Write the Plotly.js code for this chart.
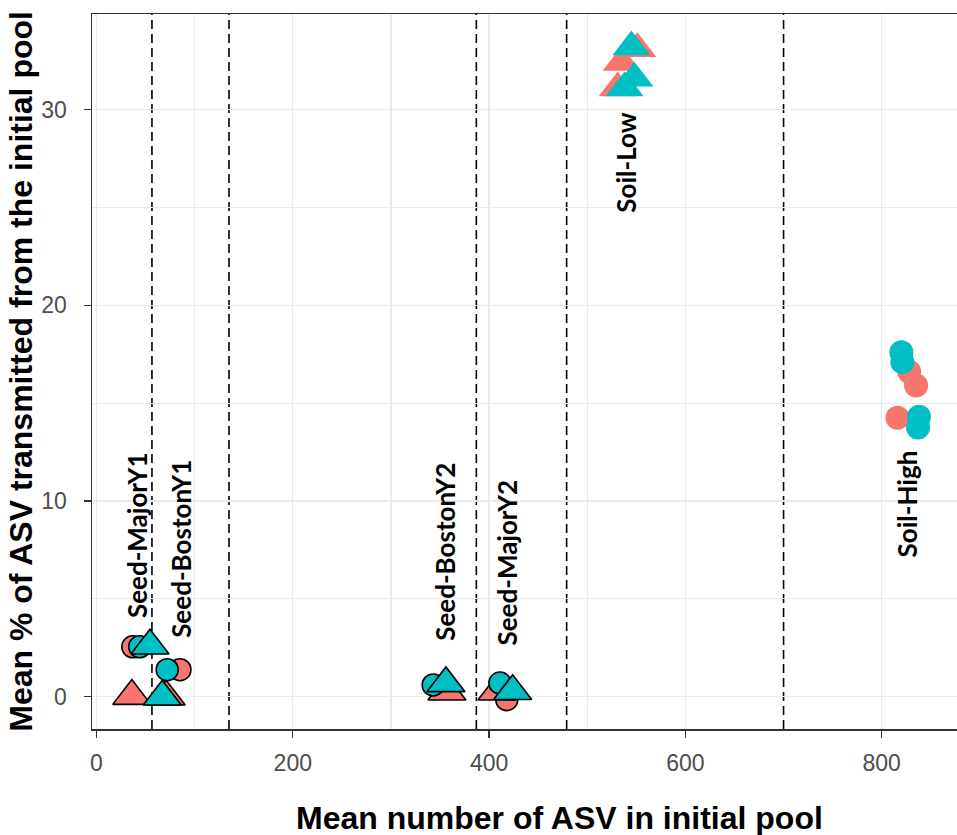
<!DOCTYPE html>
<html>
<head>
<meta charset="utf-8">
<script src="https://cdn.plot.ly/plotly-3.0.1.min.js"></script>
<style>
  html, body { margin: 0; padding: 0; background: #ffffff; overflow: hidden; }
  #chart { width: 957px; height: 835px; }
</style>
</head>
<body>
<div id="chart"></div>
<script>
// ---- data ----
// Seed groups (outlined markers)
const seedRedCircleX = [37, 85, 418];
const seedRedCircleY = [2.55, 1.38, -0.15];
const seedRedTriX = [36, 71, 357, 408];
const seedRedTriY = [0.03, 0.0, 0.25, 0.25];
const seedTealCircleX = [44, 72, 343, 411];
const seedTealCircleY = [2.55, 1.38, 0.6, 0.7];
const seedTealTriX = [54.5, 67, 356, 424];
const seedTealTriY = [2.6, 0.0, 0.68, 0.28];

// Soil groups (no outline)
const soilRedTriX = [551, 535, 531];
const soilRedTriY = [33.1, 32.4, 31.1];
const soilTealTriX = [545, 538, 548];
const soilTealTriY = [33.2, 31.1, 31.6];
const soilRedCircleX = [828, 835, 816];
const soilRedCircleY = [16.6, 15.9, 14.25];
const soilTealCircleX = [820, 821, 838, 837];
const soilTealCircleY = [17.6, 17.1, 14.3, 13.75];

// Group labels
const labelText = ["Seed-MajorY1", "Seed-BostonY1", "Seed-BostonY2", "Seed-MajorY2", "Soil-Low", "Soil-High"];
const labelX = [42, 86, 355, 418, 540, 826];
const labelY = [3.9, 2.9, 2.75, 2.5, 24.6, 7.0];

// Dashed separators
const dividerX = [56.5, 135, 387, 479, 700];

// Axis ticks
const xTickVals = [0, 200, 400, 600, 800];
const xMinorVals = [100, 300, 500, 900];
const yTickVals = [0, 10, 20, 30];
const yMinorVals = [5, 15, 25];

// ---- styling ----
const RED = "#F8766D";
const TEAL = "#00BFC4";

function tr(x, y, color, symbol, size, outlined) {
  return {
    type: "scatter", mode: "markers", x: x, y: y, hoverinfo: "x+y",
    showlegend: false,
    marker: {
      color: color, symbol: symbol, size: size, opacity: 1,
      line: outlined ? {color: "#000000", width: 1.6} : {width: 0}
    }
  };
}

const traces = [
  tr(soilRedTriX, soilRedTriY, RED, "triangle-up", 33, false),
  tr(soilTealTriX, soilTealTriY, TEAL, "triangle-up", 33, false),
  tr(soilRedCircleX, soilRedCircleY, RED, "circle", 24, false),
  tr(soilTealCircleX, soilTealCircleY, TEAL, "circle", 24, false),
  tr(seedRedCircleX, seedRedCircleY, RED, "circle", 22, true),
  tr(seedRedTriX, seedRedTriY, RED, "triangle-up", 33, true),
  tr(seedTealCircleX, seedTealCircleY, TEAL, "circle", 22, true),
  tr(seedTealTriX, seedTealTriY, TEAL, "triangle-up", 33, true)
];

const shapes = dividerX.map(v => ({
  type: "line", xref: "x", yref: "paper", x0: v, x1: v, y0: 0, y1: 1,
  layer: "between",
  line: {color: "#000000", width: 1.6, dash: "9px,5px"}
}));

const annotations = labelText.map((t, i) => ({
  text: t, x: labelX[i], y: labelY[i], xref: "x", yref: "y",
  textangle: -90, xanchor: "center", yanchor: "bottom", showarrow: false,
  font: {family: "Lato, 'Open Sans', sans-serif", size: 26, color: "#000000", weight: "bold"}
}));

annotations.push({
  text: "<b>Mean number of ASV in initial pool</b>",
  xref: "paper", yref: "paper", x: 0.541, y: -0.125,
  xanchor: "center", yanchor: "middle", showarrow: false,
  font: {family: "'Liberation Sans', Arial, sans-serif", size: 32, color: "#000000"}
});
annotations.push({
  text: "<b>Mean % of ASV transmitted from the initial pool</b>",
  xref: "paper", yref: "paper", x: -0.083, y: 0.5,
  textangle: -90, xanchor: "center", yanchor: "middle", showarrow: false,
  font: {family: "'Liberation Sans', Arial, sans-serif", size: 32, color: "#000000"}
});

const layout = {
  width: 957, height: 835,
  margin: {l: 92, r: 0, t: 14, b: 106, pad: 0},
  paper_bgcolor: "#ffffff", plot_bgcolor: "#ffffff",
  showlegend: false,
  xaxis: {
    range: [-4.58, 876.7], tickmode: "array", tickvals: xTickVals,
    showgrid: true, gridcolor: "#ebebeb", gridwidth: 1.3,
    minor: {showgrid: true, tickmode: "array", tickvals: xMinorVals, gridcolor: "#ebebeb", gridwidth: 1.1},
    zeroline: false, showline: true, mirror: true, linecolor: "#333333", linewidth: 1.5,
    ticks: "outside", ticklen: 7, tickwidth: 1.3, tickcolor: "#333333",
    tickfont: {family: "'Liberation Sans', Arial, sans-serif", size: 23, color: "#4d4d4d"},
    ticklabelstandoff: 6
  },
  yaxis: {
    range: [-1.65, 34.88], tickmode: "array", tickvals: yTickVals,
    showgrid: true, gridcolor: "#ebebeb", gridwidth: 1.3,
    minor: {showgrid: true, tickmode: "array", tickvals: yMinorVals, gridcolor: "#ebebeb", gridwidth: 1.1},
    zeroline: false, showline: true, mirror: false, linecolor: "#333333", linewidth: 1.5,
    ticks: "outside", ticklen: 7, tickwidth: 1.3, tickcolor: "#333333",
    tickfont: {family: "'Liberation Sans', Arial, sans-serif", size: 23, color: "#4d4d4d"},
    ticklabelstandoff: 12
  },
  shapes: shapes,
  annotations: annotations
};

Plotly.newPlot("chart", traces, layout, {displayModeBar: false, staticPlot: true});
</script>
</body>
</html>
